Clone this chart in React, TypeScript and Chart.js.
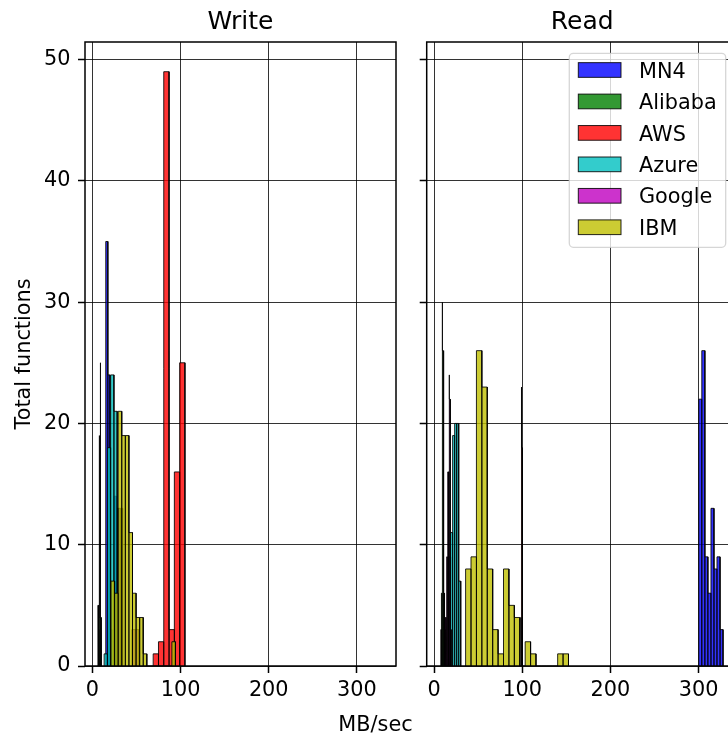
import React, { useEffect, useRef } from "react";
import { Chart, registerables } from "chart.js";

Chart.register(...registerables);

const FONT_FAMILY = "'DejaVu Sans', 'Liberation Sans', sans-serif";

// ---------- series & axes ----------
const seriesLabels = ["MN4", "Alibaba", "AWS", "Azure", "Google", "IBM"];
const seriesFills = [
  "rgba(0,0,255,0.8)",
  "rgba(0,128,0,0.8)",
  "rgba(255,0,0,0.8)",
  "rgba(0,191,191,0.8)",
  "rgba(191,0,191,0.8)",
  "rgba(191,191,0,0.8)",
];
const panelTitles = ["Write", "Read"];
const yAxisTitle = "Total functions";
const xAxisTitle = "MB/sec";
const xTicks = [0, 100, 200, 300];
const yTicks = [0, 10, 20, 30, 40, 50];
const xRange = [-8.3, 344.3];
const yRange = [0, 51.45];

// ---------- Write panel (bin edges in MB/sec, counts) ----------
const writeMN4Edges = [15.2, 17.6, 20.0, 22.4, 24.8, 27.2, 29.6, 32.0, 34.4];
const writeMN4Counts = [35, 24, 3, 2, 14, 13, 13, 13];
const writeAlibabaEdges = [6.0, 6.4, 6.8, 7.2, 7.6, 8.0, 8.4, 8.8, 9.2, 9.6, 10.0, 10.4];
const writeAlibabaCounts = [4, 5, 4, 3, 19, 6, 4, 25, 14, 4, 2];
const writeAWSEdges = [69.0, 75.0, 81.0, 87.0, 93.0, 99.0, 105.0];
const writeAWSCounts = [1, 2, 49, 3, 16, 25];
const writeAzureEdges = [13.4, 17.1, 20.8, 24.5, 28.2];
const writeAzureCounts = [1, 18, 24, 21];
const writeGoogleEdges = [44.8, 48.8, 52.8];
const writeGoogleCounts = [3, 3];
const writeIBMEdges = [21.2, 25.26, 29.32, 33.38, 37.44, 41.5, 45.56, 49.62, 53.68, 57.74, 61.8, 65.86, 69.92, 73.98, 78.04, 82.1, 86.16, 90.22, 94.28];
const writeIBMCounts = [7, 6, 21, 19, 19, 11, 6, 4, 4, 1, 0, 0, 0, 0, 0, 0, 0, 2];

// ---------- Read panel ----------
const readMN4Edges = [300.2, 303.6, 307.1, 310.5, 314.0, 317.4, 320.8, 324.3, 327.7];
const readMN4Counts = [22, 26, 9, 6, 13, 8, 9, 3];
const readAlibabaEdges = [7.7, 8.4, 9.1, 9.8, 10.5, 11.2, 11.9, 12.6];
const readAlibabaCounts = [3, 6, 30, 26, 8, 6, 4];
const readAWSEdges = [98.4, 98.7, 99.0, 99.3, 99.6, 99.9, 100.2, 100.5, 100.8];
const readAWSCounts = [4, 9, 15, 23, 18, 12, 8, 5];
const readAzureEdges = [16.5, 18.8, 21.1, 23.4, 25.7, 28.0, 30.3];
const readAzureCounts = [9, 11, 19, 20, 20, 7];
const readGoogleEdges = [12.2, 12.8, 13.4, 14.0, 14.6, 15.2, 15.8, 16.4, 17.0, 17.6, 18.2, 18.8, 19.4];
const readGoogleCounts = [3, 4, 4, 5, 9, 9, 16, 16, 24, 22, 8, 3];
const readIBMEdges = [35.8, 41.94, 48.08, 54.22, 60.36, 66.5, 72.64, 78.78, 84.92, 91.06, 97.2, 103.34, 109.48, 115.62, 121.76, 127.9, 134.04, 140.18, 146.32, 152.46];
const readIBMCounts = [8, 9, 26, 23, 8, 3, 1, 8, 5, 4, 0, 2, 1, 0, 0, 0, 0, 1, 1];

const writeEdges = [writeMN4Edges, writeAlibabaEdges, writeAWSEdges, writeAzureEdges, writeGoogleEdges, writeIBMEdges];
const writeCounts = [writeMN4Counts, writeAlibabaCounts, writeAWSCounts, writeAzureCounts, writeGoogleCounts, writeIBMCounts];
const readEdges = [readMN4Edges, readAlibabaEdges, readAWSEdges, readAzureEdges, readGoogleEdges, readIBMEdges];
const readCounts = [readMN4Counts, readAlibabaCounts, readAWSCounts, readAzureCounts, readGoogleCounts, readIBMCounts];

const EDGE_COLOR = "rgba(0,0,0,0.85)";
const BASE_FONT = 20.8;

// outline of a histogram: every bin is a closed bar (edge, 0) -> (edge, n) -> (next, n) -> (next, 0)
function histogramOutline(edges: number[], counts: number[]) {
  const pts: { x: number; y: number }[] = [];
  for (let i = 0; i < counts.length; i++) {
    pts.push({ x: edges[i], y: 0 });
    pts.push({ x: edges[i], y: counts[i] });
    pts.push({ x: edges[i + 1], y: counts[i] });
    pts.push({ x: edges[i + 1], y: 0 });
  }
  return pts;
}

function buildDatasets(edgesList: number[][], countsList: number[][]) {
  const ds = seriesLabels.map((label, i) => ({
    type: "line",
    label,
    data: histogramOutline(edgesList[i], countsList[i]),
    borderColor: EDGE_COLOR,
    borderWidth: 1,
    backgroundColor: seriesFills[i],
    fill: "origin",
    pointRadius: 0,
    pointHoverRadius: 0,
    tension: 0,
    borderJoinStyle: "miter",
  }));
  // Chart.js paints dataset 0 last (on top); matplotlib paints the last series on top
  return ds.reverse();
}

function makeFramePlugin(withLegend: boolean) {
  return {
    id: "frameAndLegend",
    afterDraw(chart: any) {
      const { ctx, chartArea } = chart;
      ctx.save();
      ctx.strokeStyle = "#000";
      ctx.lineWidth = 1.5;
      ctx.strokeRect(chartArea.left, chartArea.top, chartArea.right - chartArea.left, chartArea.bottom - chartArea.top);
      if (withLegend) {
        const fl = chartArea.right - 168.4;
        const ft = chartArea.top + 11.3;
        const fw = 156.4;
        const fh = 194;
        ctx.beginPath();
        if (ctx.roundRect) ctx.roundRect(fl, ft, fw, fh, 4);
        else ctx.rect(fl, ft, fw, fh);
        ctx.fillStyle = "rgba(255,255,255,0.8)";
        ctx.fill();
        ctx.strokeStyle = "rgba(204,204,204,0.8)";
        ctx.lineWidth = 1.3;
        ctx.stroke();
        const items = chart.data.datasets.slice().reverse();
        items.forEach((d: any, i: number) => {
          const cy = chartArea.top + 28 + 31.45 * i;
          const px = fl + 9;
          ctx.fillStyle = "#fff";
          ctx.fillRect(px, cy - 7.35, 42.7, 14.7);
          ctx.fillStyle = d.backgroundColor;
          ctx.fillRect(px, cy - 7.35, 42.7, 14.7);
          ctx.strokeStyle = EDGE_COLOR;
          ctx.lineWidth = 1;
          ctx.strokeRect(px, cy - 7.35, 42.7, 14.7);
          ctx.fillStyle = "#000";
          ctx.font = `${BASE_FONT}px ${FONT_FAMILY}`;
          ctx.textAlign = "left";
          ctx.textBaseline = "alphabetic";
          ctx.fillText(d.label, fl + 69.7, cy + 7.6);
        });
      }
      ctx.restore();
    },
  };
}

type PanelProps = {
  left: number;
  canvasWidth: number;
  title: string;
  edges: number[][];
  counts: number[][];
  yAxisWidth: number;
  padRight: number;
  showYLabels: boolean;
  legend: boolean;
};

function Panel(props: PanelProps) {
  const ref = useRef<HTMLCanvasElement | null>(null);
  useEffect(() => {
    const tickFont = { family: FONT_FAMILY, size: BASE_FONT };
    const gridBase = {
      color: "rgba(0,0,0,0.8)",
      lineWidth: 1,
      drawTicks: true,
      tickLength: 7,
      tickColor: "#000",
      tickWidth: 1.5,
    };
    const chart = new Chart(ref.current as HTMLCanvasElement, {
      type: "line",
      data: { datasets: buildDatasets(props.edges, props.counts) as any },
      options: {
        responsive: false,
        animation: false,
        events: [],
        layout: { padding: { left: 0, right: props.padRight, top: 0, bottom: 0 } },
        plugins: {
          legend: { display: false },
          tooltip: { enabled: false },
          title: {
            display: true,
            text: props.title,
            fullSize: false,
            color: "#000",
            font: { family: FONT_FAMILY, size: 25, weight: "normal" },
            padding: { top: 7, bottom: 5 },
          },
        },
        scales: {
          x: {
            type: "linear",
            min: xRange[0],
            max: xRange[1],
            z: 1,
            afterBuildTicks: (s: any) => {
              s.ticks = xTicks.map((v) => ({ value: v }));
            },
            afterFit: (s: any) => {
              s.height = 71;
            },
            grid: gridBase,
            border: { display: false },
            ticks: {
              font: tickFont,
              color: "#000",
              padding: 5,
              maxRotation: 0,
              autoSkip: false,
              callback: (v: any) => String(v),
            },
          },
          y: {
            type: "linear",
            min: yRange[0],
            max: yRange[1],
            z: 1,
            afterBuildTicks: (s: any) => {
              s.ticks = yTicks.map((v) => ({ value: v }));
            },
            afterFit: (s: any) => {
              s.width = props.yAxisWidth;
            },
            grid: gridBase,
            border: { display: false },
            title: {
              display: props.showYLabels,
              text: yAxisTitle,
              color: "#000",
              font: { family: FONT_FAMILY, size: BASE_FONT },
              padding: { top: 12, bottom: 0 },
            },
            ticks: {
              font: tickFont,
              color: "#000",
              padding: 7.5,
              autoSkip: false,
              callback: (v: any) => (props.showYLabels ? String(v) : ""),
            },
          },
        },
      } as any,
      plugins: [makeFramePlugin(props.legend)],
    });
    return () => chart.destroy();
  }, []);
  return (
    <canvas
      ref={ref}
      width={props.canvasWidth}
      height={737}
      style={{ position: "absolute", left: props.left, top: 0, width: props.canvasWidth, height: 737 }}
    />
  );
}

export default function App() {
  return (
    <div
      style={{
        position: "fixed",
        left: 0,
        top: 0,
        width: 728,
        height: 737,
        overflow: "hidden",
        background: "#fff",
      }}
    >
      <Panel
        left={0}
        canvasWidth={410}
        title={panelTitles[0]}
        edges={writeEdges}
        counts={writeCounts}
        yAxisWidth={85}
        padRight={14}
        showYLabels={true}
        legend={false}
      />
      <Panel
        left={410}
        canvasWidth={350}
        title={panelTitles[1]}
        edges={readEdges}
        counts={readCounts}
        yAxisWidth={16.7}
        padRight={22.3}
        showYLabels={false}
        legend={true}
      />
      <div
        style={{
          position: "absolute",
          left: 275.5,
          width: 200,
          top: 712,
          textAlign: "center",
          fontFamily: FONT_FAMILY,
          fontSize: BASE_FONT,
          lineHeight: "25px",
          color: "#000",
        }}
      >
        {xAxisTitle}
      </div>
    </div>
  );
}
